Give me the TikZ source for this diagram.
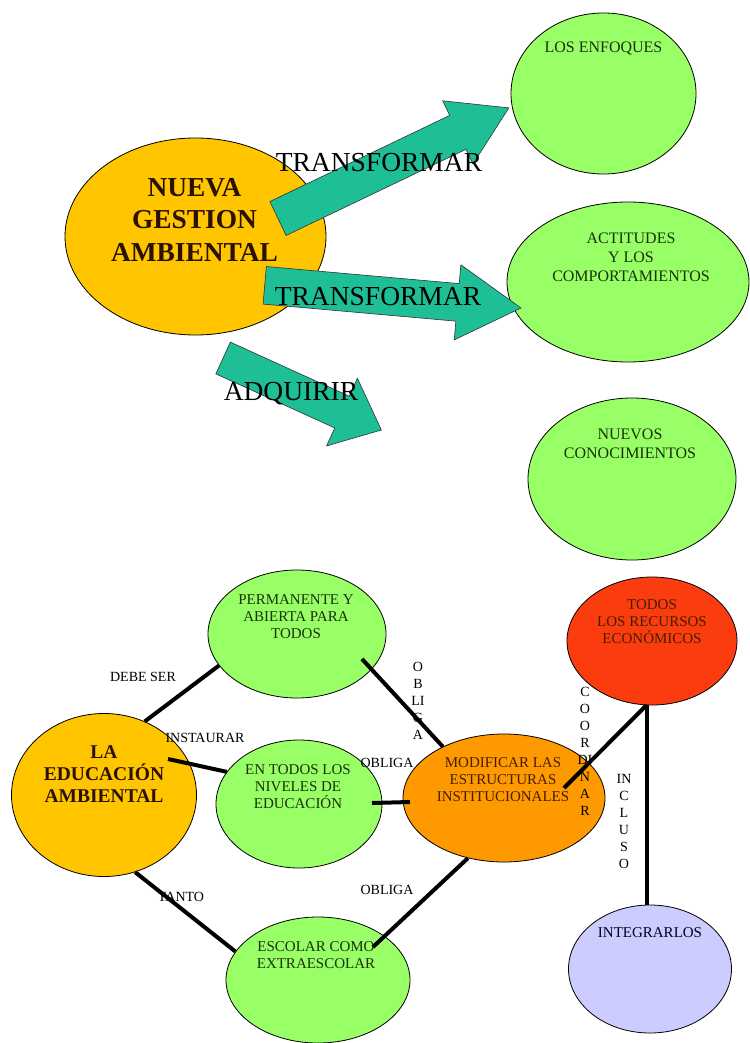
\documentclass[tikz,border=0pt]{standalone}
\usepackage{fontspec}
\setmainfont{Liberation Serif}
\usetikzlibrary{shapes.geometric}
\definecolor{verde}{RGB}{153,255,102}
\definecolor{oro}{RGB}{255,198,0}
\definecolor{naranja}{RGB}{255,153,0}
\definecolor{rojo}{RGB}{250,60,15}
\definecolor{lila}{RGB}{204,204,255}
\definecolor{turquesa}{RGB}{30,190,150}
\definecolor{tintaverde}{RGB}{25,50,10}
\definecolor{tintacafe}{RGB}{70,30,0}

% block arrow: x, y of tail middle, angle, length, half shaft, half head, head length
\newcommand{\flecha}[7]{%
  \begin{scope}[shift={(#1,#2)},rotate=#3]
    \filldraw[bloque] (0,-#5) -- ({#4-#7},-#5) -- ({#4-#7},-#6) -- (#4,0)
      -- ({#4-#7},#6) -- ({#4-#7},#5) -- (0,#5) -- cycle;
  \end{scope}}

\begin{document}
\begin{tikzpicture}[x=1pt,y=-1pt,
    bola/.style={ellipse,draw=black,line width=0.8pt,inner sep=0pt},
    txt/.style={align=center,inner sep=0pt,text=tintaverde,font=\fontsize{15}{17}\selectfont},
    txtgrande/.style={align=center,inner sep=0pt,text=tintaverde,font=\fontsize{16}{19}\selectfont},
    etiq/.style={align=center,inner sep=0pt,font=\fontsize{14}{17}\selectfont},
    verbo/.style={inner sep=0pt,font=\fontsize{27.5}{33}\selectfont},
    enlace/.style={line width=4pt},
    bloque/.style={fill=turquesa,draw=black!80,line width=0.6pt}]
        \useasboundingbox (0,0) rectangle (749,1043);
        \fill[white] (0,0) rectangle (749,1043);

        % Upper ellipses
        \node[bola,fill=oro,  minimum width=261pt,minimum height=197pt] (nueva)     at (195.5,236.5) {};
        \node[bola,fill=verde,minimum width=185pt,minimum height=161pt] (enfoques)  at (603.5, 93.5) {};
        \node[bola,fill=verde,minimum width=242pt,minimum height=160pt] (actitudes) at (628  ,282  ) {};
        \node[bola,fill=verde,minimum width=208pt,minimum height=162pt] (nuevos)    at (632  ,479  ) {};

        % Block arrows
        \flecha{278  }{218.5}{ 25.6 }{256  }{18.8 }{35  }{56.6}
        \flecha{264.7}{285.3}{ -5.06}{257.3}{18.85}{37.7}{63.7}
        \flecha{223.1}{358  }{-24.46}{173.9}{17.45}{37.2}{43.3}

        % Upper texts
        \node[align=center,inner sep=0pt,text=tintacafe!60!black,font=\fontsize{27.4}{32.5}\selectfont\bfseries]
              (nuevat) at ([xshift=-1pt,yshift=17pt]nueva.center) {NUEVA\\GESTION\\AMBIENTAL};
        \node[txtgrande] (enfoquest)  at ([yshift=44.5pt]enfoques.center)          {LOS ENFOQUES};
        \node[txtgrande] (actitudest) at ([xshift=3pt,yshift=25pt]actitudes.center) {ACTITUDES\\Y LOS\\COMPORTAMIENTOS};
        \node[txtgrande] (nuevost)    at ([xshift=-2pt,yshift=35.5pt]nuevos.center) {NUEVOS\\CONOCIMIENTOS};

        \node[verbo] (transf1)  at (379,163) {TRANSFORMAR};
        \node[verbo] (transf2)  at (378,297) {TRANSFORMAR};
        \node[verbo] (adquirir) at (291,394) {ADQUIRIR};

        % Lower ellipses
        \node[bola,fill=verde,  minimum width=178pt,minimum height=128pt] (perm)     at (297,634) {};
        \node[bola,fill=oro,    minimum width=185pt,minimum height=163pt] (educ)     at (104,795) {};
        \node[bola,fill=verde,  minimum width=166pt,minimum height=128pt] (entodos)  at (299,804) {};
        \node[bola,fill=naranja,minimum width=202pt,minimum height=128pt] (modif)    at (504,798) {};
        \node[bola,fill=rojo,   minimum width=170pt,minimum height=128pt] (recursos) at (652,641) {};
        \node[bola,fill=verde,  minimum width=184pt,minimum height=126pt] (escolar)  at (318,980) {};
        \node[bola,fill=lila,   minimum width=163pt,minimum height=128pt] (integ)    at (650,969) {};

        % Lower texts
        \node[txt] (permt) at ([xshift=-1pt,yshift=17pt]perm.center) {PERMANENTE Y\\ABIERTA PARA\\TODOS};
        \node[align=center,inner sep=0pt,text=tintacafe!60!black,font=\fontsize{19.5}{22}\selectfont\bfseries]
              (educt) at ([yshift=20.5pt]educ.center) {LA\\EDUCACIÓN\\AMBIENTAL};
        \node[txt] (entodost)  at ([xshift=-1pt,yshift=17pt]entodos.center) {EN TODOS LOS\\NIVELES DE\\EDUCACIÓN};
        \node[txt,text=tintacafe] (modift)    at ([xshift=-1pt,yshift=18pt]modif.center) {MODIFICAR LAS\\ESTRUCTURAS\\INSTITUCIONALES};
        \node[txt,text=tintacafe] (recursost) at ([yshift=19pt]recursos.center) {TODOS\\LOS RECURSOS\\ECONÓMICOS};
        \node[txt] (escolart)  at ([xshift=-2pt,yshift=25pt]escolar.center) {ESCOLAR COMO\\EXTRAESCOLAR};
        \node[txt,text=black!85!blue] (integt) at ([yshift=36pt]integ.center) {INTEGRARLOS};

        % Labels
        \node[etiq] (debe)      at (143,677  ) {DEBE SER};
        \node[etiq] (instaurar) at (205,738  ) {INSTAURAR};
        \node[etiq] (obligav)   at (418,701  ) {O\\B\\LI\\G\\A};
        \node[etiq] (obligah)   at (387,763  ) {OBLIGA};
        \node[etiq] (coordinar) at (585,751  ) {C\\O\\O\\R\\DI\\N\\A\\R};
        \node[etiq] (incluso)   at (624,821.5) {IN\\C\\L\\U\\S\\O};
        \node[etiq] (tanto)     at (181,897  ) {TANTO};
        \node[etiq] (obligab)   at (387,890  ) {OBLIGA};

        % Connectors
        \draw[enlace] (perm.202) -- (educ.61);
        \draw[enlace] ([shift={(64,-36)}]educ.center) -- (entodos.156);
        \draw[enlace] ([shift={(65,25)}]perm.center) -- (modif.140);
        \draw[enlace] ([shift={(73,-1)}]entodos.center) -- ([shift={(-94,4)}]modif.center);
        \draw[enlace] ([shift={(60,-10)}]modif.center) -- (recursos.265);
        \draw[enlace] ([xshift=-5pt]recursos.south) -- ([xshift=-3pt]integ.north);
        \draw[enlace] (educ.292) -- (escolar.161);
        \draw[enlace] (modif.239) -- ([shift={(55,-33)}]escolar.center);
\end{tikzpicture}
\end{document}
